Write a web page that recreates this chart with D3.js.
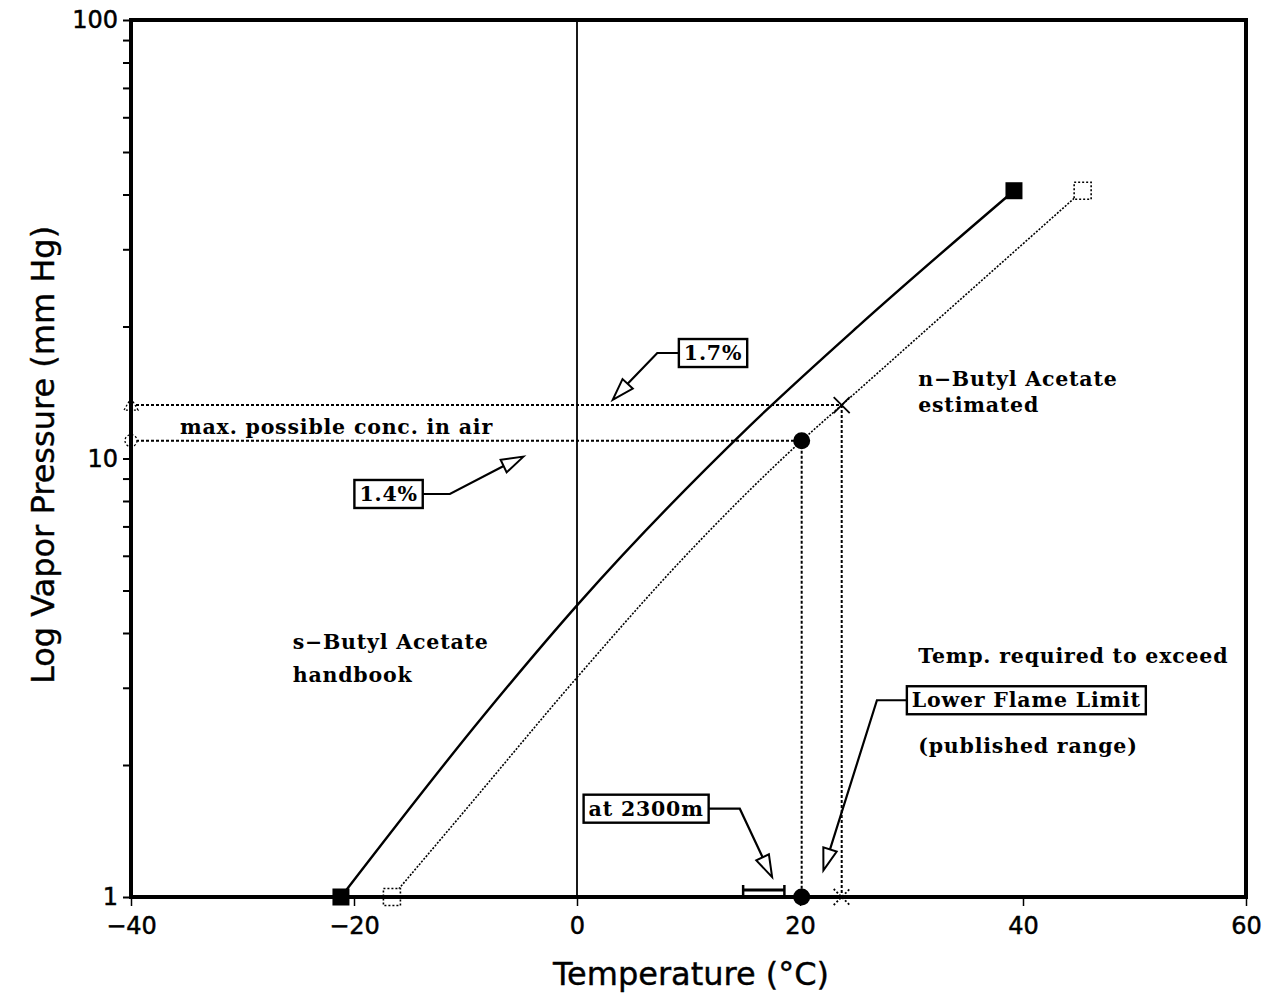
<!DOCTYPE html>
<html>
<head>
<meta charset="utf-8">
<script src="https://cdn.jsdelivr.net/npm/d3@7"></script>
<style>
  body { margin: 0; background: #fff; }
  .ann { font-family: "DejaVu Serif", serif; font-weight: bold; font-size: 20.5px; letter-spacing: 0.8px; }
  .axis text { font-family: "DejaVu Sans", sans-serif; font-size: 24px; fill: #000; stroke: #000; stroke-width: 0.5px; }
  .title { font-family: "DejaVu Sans", sans-serif; font-size: 32px; stroke: #000; stroke-width: 0.4px; }
</style>
</head>
<body>
<div id="chart"></div>
<script>
// ---- data (temperature in °C, vapor pressure in mm Hg) ----
// s-Butyl Acetate, handbook values (solid curve)
var sButylTemp  = [-21.17, -8.5, 0.18, 15.5, 25.38, 39.19],
    sButylPres  = [1.0, 2.57, 4.68, 11.87, 20.2, 40.8];

// n-Butyl Acetate, estimated (dotted curve)
var nButylTemp  = [-16.6, -10, 0.2, 10, 20.15, 23.74, 35, 45.35],
    nButylPres  = [1.0, 1.58, 3.21, 6.1, 10.98, 13.24, 23.8, 40.8];

// max. possible concentration in air (1.7 % and 1.4 %) and the temperatures needed
var limitPres   = [13.24, 10.98],
    limitTemp   = [23.74, 20.15];

// temperature range at 2300m
var altRange    = [14.9, 18.6];

var xTicks      = [-40, -20, 0, 20, 40, 60],
    yTicks      = [1, 2, 3, 4, 5, 6, 7, 8, 9, 10, 20, 30, 40, 50, 60, 70, 80, 90, 100],
    yLabelled   = [1, 10, 100];

// boxed callouts: [label, box centre, elbow, arrow tip] in data units
var callouts = [
  ['1.7%',              [12.2, 17.4], [7.2, 17.5],  [3.2, 13.6]],
  ['1.4%',              [-16.9, 8.3], [-11.4, 8.4], [-4.8, 10.1]],
  ['Lower Flame Limit', [40.3, 2.81], [26.9, 2.81], [22.1, 1.15]],
  ['at 2300m',          [6.2, 1.59],  [14.6, 1.58], [17.5, 1.11]]
];

// plain text notes: [text, temp, pressure]
var notes = [
  ['max. possible conc. in air', -35.6, 11.4],
  ['n\u2212Butyl Acetate', 30.6, 14.6],
  ['estimated', 30.6, 12.75],
  ['s\u2212Butyl Acetate', -25.5, 3.68],
  ['handbook', -25.5, 3.10],
  ['Temp. required to exceed', 30.6, 3.42],
  ['(published range)', 30.6, 2.13]
];

var W = 1264, H = 995,
    mLeft = 131, mRight = 1246, mTop = 20, mBottom = 897;

var svg = d3.select('#chart').append('svg')
    .attr('width', W)
    .attr('height', H);
svg.append('rect').attr('width', W).attr('height', H).attr('fill', '#fff');

var x = d3.scaleLinear().domain([-40, 60]).range([mLeft, mRight]);
var y = d3.scaleLog().domain([1, 100]).range([mBottom, mTop]);

// axes
svg.append('g')
    .attr('class', 'axis')
    .attr('transform', 'translate(0,' + mBottom + ')')
    .call(d3.axisBottom(x).tickValues(xTicks).tickSize(9).tickPadding(11)
      .tickFormat(function(d) { return d < 0 ? '\u2212' + (-d) : d; }))
    .call(function(g) {
      g.select('.domain').remove();
      g.selectAll('line').attr('stroke-width', 1.5);
    });

svg.append('g')
    .attr('class', 'axis')
    .attr('transform', 'translate(' + mLeft + ',0)')
    .call(d3.axisLeft(y).tickValues(yTicks).tickSize(8).tickPadding(5)
      .tickFormat(function(d) { return yLabelled.indexOf(d) >= 0 ? d : ''; }))
    .call(function(g) {
      g.select('.domain').remove();
      g.selectAll('line').attr('stroke-width', 2);
    });

// vertical line at 0 °C
svg.append('line')
    .attr('x1', x(0)).attr('x2', x(0))
    .attr('y1', y(100)).attr('y2', y(1))
    .attr('stroke', '#000').attr('stroke-width', 1.8);

// dotted guide lines
var dots = '3,2';
limitPres.forEach(function(p, i) {
  svg.append('line')
      .attr('x1', x(-40)).attr('x2', x(limitTemp[i]))
      .attr('y1', y(p)).attr('y2', y(p))
      .attr('stroke', '#000').attr('stroke-width', 2).attr('stroke-dasharray', dots);
  svg.append('line')
      .attr('x1', x(limitTemp[i])).attr('x2', x(limitTemp[i]))
      .attr('y1', y(p)).attr('y2', y(1))
      .attr('stroke', '#000').attr('stroke-width', 2).attr('stroke-dasharray', dots);
});

// curves
var line = d3.line()
    .x(function(d) { return x(d[0]); })
    .y(function(d) { return y(d[1]); })
    .curve(d3.curveMonotoneX);

var sData = sButylTemp.map(function(t, i) { return [t, sButylPres[i]]; }),
    nData = nButylTemp.map(function(t, i) { return [t, nButylPres[i]]; });

svg.append('path').datum(sData).attr('d', line)
    .attr('fill', 'none').attr('stroke', '#000').attr('stroke-width', 2.4);
svg.append('path').datum(nData).attr('d', line)
    .attr('fill', 'none').attr('stroke', '#000').attr('stroke-width', 1.6)
    .attr('stroke-dasharray', '2,1.5');

// end squares
var sq = 17;
[sData[0], sData[sData.length - 1]].forEach(function(d) {
  svg.append('rect')
      .attr('x', x(d[0]) - sq / 2).attr('y', y(d[1]) - sq / 2)
      .attr('width', sq).attr('height', sq).attr('fill', '#000');
});
[nData[0], nData[nData.length - 1]].forEach(function(d) {
  svg.append('rect')
      .attr('x', x(d[0]) - sq / 2).attr('y', y(d[1]) - sq / 2)
      .attr('width', sq).attr('height', sq)
      .attr('fill', '#fff').attr('stroke', '#000').attr('stroke-width', 1.6)
      .attr('stroke-dasharray', '2,2');
});

// crosses and circles at the limits
function cross(cx, cy, s, dashed) {
  var g = svg.append('g');
  [[-1, -1, 1, 1], [-1, 1, 1, -1]].forEach(function(c) {
    g.append('line')
        .attr('x1', cx + c[0] * s).attr('y1', cy + c[1] * s)
        .attr('x2', cx + c[2] * s).attr('y2', cy + c[3] * s)
        .attr('stroke', '#000').attr('stroke-width', 1.8)
        .attr('stroke-dasharray', dashed ? '2,2' : null);
  });
}
cross(x(limitTemp[0]), y(limitPres[0]), 8, false);
cross(x(limitTemp[0]), y(1), 8, true);

svg.append('circle').attr('cx', x(limitTemp[1])).attr('cy', y(limitPres[1])).attr('r', 8.5).attr('fill', '#000');
svg.append('circle').attr('cx', x(limitTemp[1])).attr('cy', y(1)).attr('r', 8.5).attr('fill', '#000');

// open markers on the left axis
var lx = x(-40);
svg.append('path')
    .attr('d', 'M' + lx + ',' + (y(limitPres[0]) - 7) + 'l7,12h-14z')
    .attr('fill', '#fff').attr('stroke', '#000').attr('stroke-width', 1.3)
    .attr('stroke-dasharray', '2,2');
svg.append('circle').attr('cx', lx).attr('cy', y(limitPres[1])).attr('r', 6)
    .attr('fill', '#fff').attr('stroke', '#000').attr('stroke-width', 1.3)
    .attr('stroke-dasharray', '2,2');

// temperature range at 2300m
var ay = y(1) - 7;
svg.append('line').attr('x1', x(altRange[0])).attr('x2', x(altRange[1]))
    .attr('y1', ay).attr('y2', ay).attr('stroke', '#000').attr('stroke-width', 3);
altRange.forEach(function(t) {
  svg.append('line').attr('x1', x(t)).attr('x2', x(t))
      .attr('y1', ay - 5).attr('y2', ay + 5).attr('stroke', '#000').attr('stroke-width', 2.5);
});

// frame
svg.append('rect')
    .attr('x', mLeft).attr('y', mTop)
    .attr('width', mRight - mLeft).attr('height', mBottom - mTop)
    .attr('fill', 'none').attr('stroke', '#000').attr('stroke-width', 4);

// notes
notes.forEach(function(n) {
  svg.append('text').attr('class', 'ann')
      .attr('x', x(n[1])).attr('y', y(n[2]))
      .text(n[0]);
});

// callouts with hollow arrows
callouts.forEach(function(c) {
  var bx = x(c[1][0]), by = y(c[1][1]),
      ex = x(c[2][0]), ey = y(c[2][1]),
      tx = x(c[3][0]), ty = y(c[3][1]);

  var t = svg.append('text').attr('class', 'ann')
      .attr('x', bx).attr('y', by + 7)
      .attr('text-anchor', 'middle')
      .text(c[0]);
  var bb = t.node().getBBox();
  var bw = bb.width + 10, bh = 28;
  svg.insert('rect', function() { return t.node(); })
      .attr('x', bx - bw / 2).attr('y', by - bh / 2)
      .attr('width', bw).attr('height', bh)
      .attr('fill', '#fff').attr('stroke', '#000').attr('stroke-width', 2.4);

  var sx = ex < bx ? bx - bw / 2 : bx + bw / 2;
  var ang = Math.atan2(ty - ey, tx - ex),
      len = 22, half = 7,
      baseX = tx - len * Math.cos(ang), baseY = ty - len * Math.sin(ang);

  svg.append('polyline')
      .attr('points', [[sx, by], [ex, by], [baseX, baseY]].join(' '))
      .attr('fill', 'none').attr('stroke', '#000').attr('stroke-width', 2.2);
  svg.append('path')
      .attr('d', 'M' + tx + ',' + ty +
        'L' + (baseX - half * Math.sin(ang)) + ',' + (baseY + half * Math.cos(ang)) +
        'L' + (baseX + half * Math.sin(ang)) + ',' + (baseY - half * Math.cos(ang)) + 'Z')
      .attr('fill', '#fff').attr('stroke', '#000').attr('stroke-width', 2);
});

// axis titles
svg.append('text')
    .attr('class', 'title')
    .attr('x', 691).attr('y', 985)
    .attr('text-anchor', 'middle')
    .text('Temperature (\u00b0C)');
svg.append('text')
    .attr('class', 'title')
    .attr('transform', 'translate(54,' + 455 + ') rotate(-90)')
    .attr('text-anchor', 'middle')
    .text('Log Vapor Pressure (mm Hg)');
</script>
</body>
</html>
